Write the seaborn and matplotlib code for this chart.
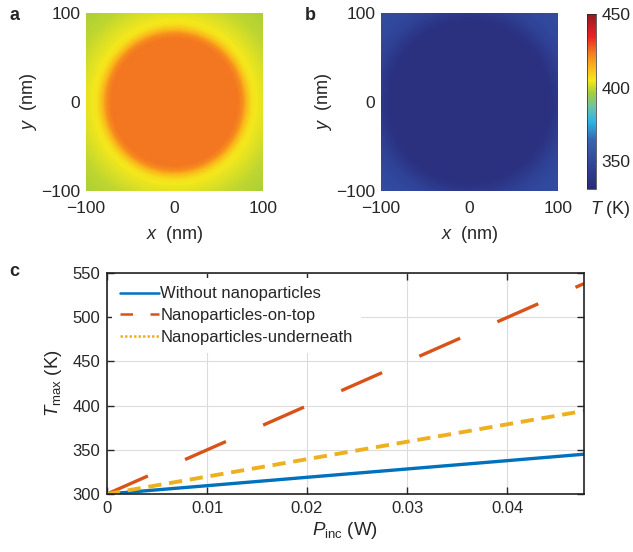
import numpy as np
import pandas as pd
import matplotlib
matplotlib.use('Agg')
import matplotlib.pyplot as plt
import seaborn as sns
from matplotlib.colors import LinearSegmentedColormap
from matplotlib.lines import Line2D

# ---------------- data ----------------
# panel c: maximum temperature vs incident power
p_inc = [0.0, 0.01, 0.02, 0.03, 0.04, 0.0477]
t_without = [300, 309.4, 318.9, 328.3, 337.7, 345]
t_on_top = [300, 349.9, 399.8, 449.7, 499.6, 538]
t_underneath = [300, 319.7, 339.4, 359.1, 378.8, 394]
series_labels = ['Without nanoparticles', 'Nanoparticles-on-top', 'Nanoparticles-underneath']
series_colors = ['#0072BD', '#D95319', '#EDB120']

# panels a, b: radial temperature profiles (r in nm, T in K)
r_a = [0, 72, 77, 82, 88, 95, 105, 120, 141.5]
t_a = [424, 424, 421, 413, 406, 404, 402, 399, 397]
r_b = [0, 88, 95, 102, 111, 124, 141.5]
t_b = [335, 335, 337, 341, 346, 350, 352]
map_ticks = [-100, 0, 100]
cbar_ticks = [350, 400, 450]
t_min, t_max = 331, 450

# ---------------- style ----------------
sns.set_style('ticks')
plt.rcParams['font.family'] = ['Liberation Sans', 'DejaVu Sans']
plt.rcParams['mathtext.fontset'] = 'custom'
plt.rcParams['mathtext.rm'] = 'Liberation Sans'
plt.rcParams['mathtext.it'] = 'Liberation Sans:italic'

cmap = LinearSegmentedColormap.from_list('jetlike', [
    (0.00, '#2a2a78'), (0.15, '#30479c'), (0.28, '#3a64b0'), (0.38, '#2ab4e6'),
    (0.47, '#6cc4a4'), (0.55, '#a6ce39'), (0.62, '#f4e81c'), (0.70, '#fbb41a'),
    (0.78, '#f47b20'), (0.87, '#ec2227'), (1.00, '#951b1e')])

W, H = 633, 552
fig = plt.figure(figsize=(W / 100, H / 100), dpi=100)

def fb(l, t, w, h):
    return [l / W, 1 - (t + h) / H, w / W, h / H]

ax_a = fig.add_axes(fb(86, 13, 177, 178))
ax_b = fig.add_axes(fb(381, 13, 177, 178))
cax = fig.add_axes(fb(587, 14, 9, 175))
ax_c = fig.add_axes(fb(107, 273, 477, 221))

xs = np.linspace(-100, 100, 301)
X, Y = np.meshgrid(xs, xs)
R = np.hypot(X, Y)
field_a = np.interp(R, r_a, t_a)
field_b = np.interp(R, r_b, t_b)

for ax, field in [(ax_a, field_a), (ax_b, field_b)]:
    im = ax.imshow(field, extent=[-100, 100, -100, 100], origin='lower',
                   cmap=cmap, vmin=t_min, vmax=t_max, interpolation='bicubic', aspect='auto')
    ax.set_xticks(map_ticks)
    ax.set_yticks(map_ticks)
    ax.tick_params(axis='x', length=0, labelsize=12.5, pad=7)
    ax.tick_params(axis='y', length=0, labelsize=12.5, pad=4)
    for s in ax.spines.values():
        s.set_visible(False)
    ax.set_xlabel(r'$x$  (nm)', fontsize=13, labelpad=6)
    ax.set_ylabel(r'$y$  (nm)', fontsize=13, labelpad=2)

cb = fig.colorbar(im, cax=cax)
cb.set_ticks(cbar_ticks)
cb.ax.tick_params(labelsize=12.5, length=2, direction='in', width=0.6, pad=4)
cb.outline.set_linewidth(0.5)
fig.text(610 / W, 1 - 209 / H, r'$T$ (K)', fontsize=13, ha='center', va='center')

# ---------------- panel c ----------------
df = pd.DataFrame({'P': p_inc * 3,
                   'T': t_without + t_on_top + t_underneath,
                   'series': [series_labels[0]] * len(p_inc) + [series_labels[1]] * len(p_inc)
                             + [series_labels[2]] * len(p_inc)})
dash_styles = {series_labels[0]: '', series_labels[1]: (13.4, 12.2), series_labels[2]: (3.4, 2.0)}
sns.lineplot(data=df, x='P', y='T', hue='series', style='series',
             palette=dict(zip(series_labels, series_colors)), dashes=dash_styles,
             linewidth=2.4, ax=ax_c, legend=False)
ax_c.lines[2].set_linewidth(2.8)
ax_c.set_xlim(0, 0.0477)
ax_c.set_ylim(300, 550)
ax_c.set_xticks([0, 0.01, 0.02, 0.03, 0.04])
ax_c.set_xticklabels(['0', '0.01', '0.02', '0.03', '0.04'])
ax_c.set_yticks([300, 350, 400, 450, 500, 550])
ax_c.grid(True, color='#dcdcdc', linewidth=0.8)
ax_c.set_axisbelow(True)
ax_c.tick_params(direction='in', top=True, right=True, length=5, width=1.0, labelsize=12, pad=5)
for s in ax_c.spines.values():
    s.set_linewidth(1.2)
    s.set_color('#222222')
ax_c.set_xlabel(r'$P_{\mathrm{inc}}$ (W)', fontsize=13.5, labelpad=3)
ax_c.set_ylabel(r'$T_{\mathrm{max}}$ (K)', fontsize=13.5, labelpad=6)

handles = [Line2D([], [], color=series_colors[0], lw=1.8),
           Line2D([], [], color=series_colors[1], lw=1.8, dashes=(5, 7)),
           Line2D([], [], color=series_colors[2], lw=1.8, dashes=(1, 0.8))]
leg = ax_c.legend(handles, series_labels, loc='upper left', frameon=True, fontsize=12,
                  handlelength=2.3, handletextpad=0.1, labelspacing=0.4,
                  borderaxespad=0.3, borderpad=0.5)
leg.get_frame().set_edgecolor('none')
leg.get_frame().set_facecolor('white')
leg.get_frame().set_alpha(1)

for lab, x, y in [('a', 14, 16), ('b', 310, 16), ('c', 14, 272)]:
    fig.text(x / W, 1 - y / H, lab, fontsize=13, fontweight='bold', ha='center', va='center')

fig.savefig('out.png', dpi=100)
